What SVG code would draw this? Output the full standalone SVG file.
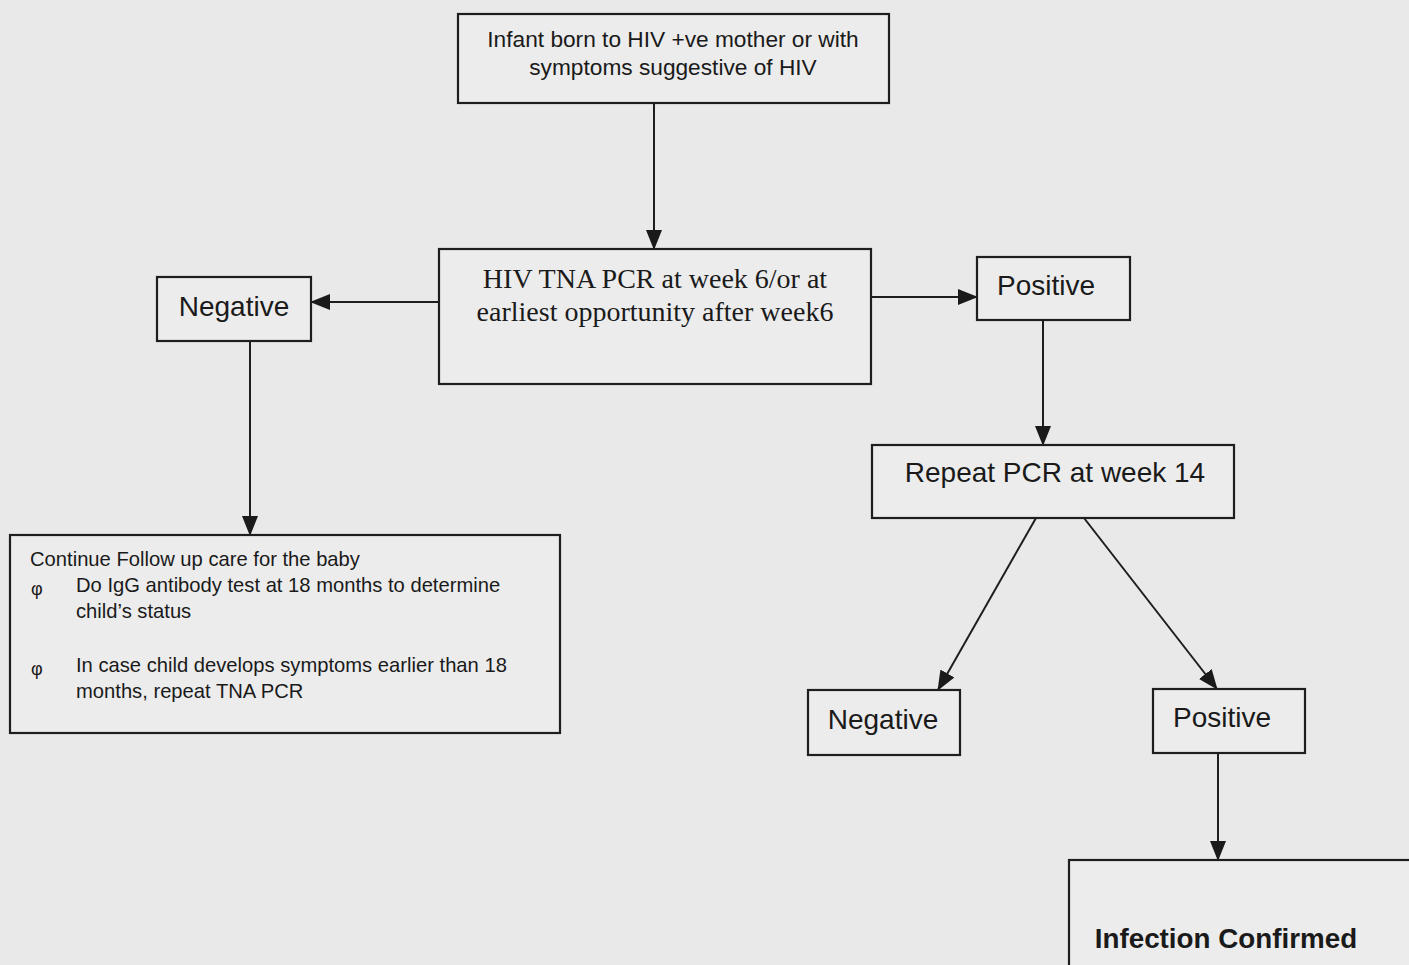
<svg xmlns="http://www.w3.org/2000/svg" width="1409" height="965" viewBox="0 0 1409 965">
<defs>
<style>
.box{fill:#ececec;stroke:#1e1e1e;stroke-width:2.2}
.s{font-family:"Liberation Sans",Arial,sans-serif;fill:#1a1a1a}
.r{font-family:"Liberation Serif","Times New Roman",serif;fill:#1a1a1a}
.c{stroke:#1e1e1e;stroke-width:2;fill:none}
</style>
<marker id="ahb" markerWidth="20" markerHeight="20" refX="19" refY="10" orient="auto" markerUnits="userSpaceOnUse" viewBox="0 0 20 20">
<path d="M0,2 L20,10 L0,18 z" fill="#1a1a1a"/>
</marker>
</defs>
<rect width="1409" height="965" fill="#e9e9e9"/>
<g id="connectors">
<line class="c" x1="654" y1="103" x2="654" y2="249" marker-end="url(#ahb)"/>
<line class="c" x1="439" y1="302" x2="311" y2="302" marker-end="url(#ahb)"/>
<line class="c" x1="871" y1="297" x2="977" y2="297" marker-end="url(#ahb)"/>
<line class="c" x1="1043" y1="320" x2="1043" y2="445" marker-end="url(#ahb)"/>
<line class="c" x1="1036" y1="518" x2="938" y2="690" marker-end="url(#ahb)"/>
<line class="c" x1="1084" y1="518" x2="1217" y2="689" marker-end="url(#ahb)"/>
<line class="c" x1="1218" y1="753" x2="1218" y2="860" marker-end="url(#ahb)"/>
<line class="c" x1="250" y1="341" x2="250" y2="535" marker-end="url(#ahb)"/>
</g>
<g id="n-start">
<rect class="box" x="458" y="14" width="431" height="89"/>
<text class="s" x="673" y="47" font-size="22.7" text-anchor="middle">Infant born to HIV +ve mother or with</text>
<text class="s" x="673" y="75" font-size="22.7" text-anchor="middle">symptoms suggestive of HIV</text>
</g>
<g id="n-pcr6">
<rect class="box" x="439" y="249" width="432" height="135"/>
<text class="r" x="655" y="288" font-size="28" text-anchor="middle">HIV TNA PCR at week 6/or at</text>
<text class="r" x="655" y="321" font-size="28" text-anchor="middle">earliest opportunity after week6</text>
</g>
<g id="n-neg1">
<rect class="box" x="157" y="277" width="154" height="64"/>
<text class="s" x="234" y="316" font-size="28" text-anchor="middle">Negative</text>
</g>
<g id="n-pos1">
<rect class="box" x="977" y="257" width="153" height="63"/>
<text class="s" x="1046" y="295" font-size="28" text-anchor="middle">Positive</text>
</g>
<g id="n-repeat">
<rect class="box" x="872" y="445" width="362" height="73"/>
<text class="s" x="1055" y="482" font-size="28" text-anchor="middle">Repeat PCR at week 14</text>
</g>
<g id="n-neg2">
<rect class="box" x="808" y="690" width="152" height="65"/>
<text class="s" x="883" y="729" font-size="28" text-anchor="middle">Negative</text>
</g>
<g id="n-pos2">
<rect class="box" x="1153" y="689" width="152" height="64"/>
<text class="s" x="1222" y="727" font-size="28" text-anchor="middle">Positive</text>
</g>
<g id="n-confirmed">
<rect class="box" x="1069" y="860" width="360" height="130"/>
<text class="s" x="1226" y="948" font-size="27.8" font-weight="bold" text-anchor="middle">Infection Confirmed</text>
</g>
<g id="n-followup">
<rect class="box" x="10" y="535" width="550" height="198"/>
<text class="s" x="30" y="566" font-size="20.2">Continue Follow up care for the baby</text>
<text class="s" x="31" y="595" font-size="18">φ</text>
<text class="s" x="76" y="592" font-size="20.2">Do IgG antibody test at 18 months to determine</text>
<text class="s" x="76" y="618" font-size="20.2">child’s status</text>
<text class="s" x="31" y="675" font-size="18">φ</text>
<text class="s" x="76" y="672" font-size="20.2">In case child develops symptoms earlier than 18</text>
<text class="s" x="76" y="698" font-size="20.2">months, repeat TNA PCR</text>
</g>
</svg>
